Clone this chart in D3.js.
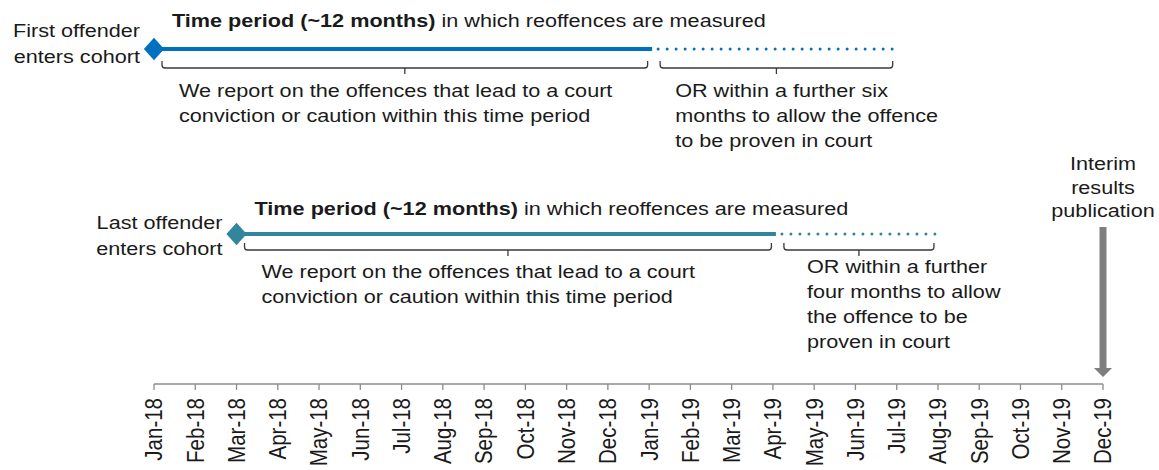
<!DOCTYPE html>
<html>
<head>
<meta charset="utf-8">
<script src="https://cdn.jsdelivr.net/npm/d3@7"></script>
<style>
    body { margin: 0; background: #fff; }
    svg { display: block; font-family: "Liberation Sans", Arial, sans-serif; }
</style>
</head>
<body>
<div class="chart"></div>
<script>
const months = ['Jan-18', 'Feb-18', 'Mar-18', 'Apr-18', 'May-18', 'Jun-18', 'Jul-18', 'Aug-18',
    'Sep-18', 'Oct-18', 'Nov-18', 'Dec-18', 'Jan-19', 'Feb-19', 'Mar-19', 'Apr-19',
    'May-19', 'Jun-19', 'Jul-19', 'Aug-19', 'Sep-19', 'Oct-19', 'Nov-19', 'Dec-19']

const rowLabels = [['First offender', 'enters cohort'], ['Last offender', 'enters cohort']]
const cohortStart = ['Jan-18', 'Mar-18']
const measuredEnd = ['Jan-19', 'Apr-19']
const provenEnd = ['Jul-19', 'Aug-19']
const rowColors = ['#0070c0', '#31859c']

const titleBold = 'Time period (~12 months)'
const titleRest = ' in which reoffences are measured'
const reportNote = ['We report on the offences that lead to a court', 'conviction or caution within this time period']
const provenNotes = [
    ['OR within a further six', 'months to allow the offence', 'to be proven in court'],
    ['OR within a further', 'four months to allow', 'the offence to be', 'proven in court']
]

const publicationMonth = 'Dec-19'
const publicationLabel = ['Interim', 'results', 'publication']

// layout of the two rows (px)
const rowY = [49, 234],
    titleY = [27, 215],
    labelY = [37, 229],
    noteY = [97, 278],
    provenDx = [26, 34],
    provenY = [97, 273],
    bracketTop = [61, 243],
    bracketBottom = [68, 250]

const width = 1159, height = 470
const axisY = 384
const fontSize = 18.5, stretch = 1.17, lineGap = 25

const x = d3.scalePoint().domain(months).range([154, 1103])

const svg = d3.select('.chart').append('svg')
    .attr('width', width)
    .attr('height', height)

function addText(g, txt, px, py, anchor = 'start', bold = false) {
    return g.append('text')
        .attr('transform', `translate(${px},${py}) scale(${stretch},1)`)
        .attr('text-anchor', anchor)
        .attr('font-size', fontSize)
        .attr('font-weight', bold ? 'bold' : 'normal')
        .attr('fill', '#1a1a1a')
        .text(txt)
}

function bracket(g, x0, x1, top, bottom) {
    const mid = (x0 + x1) / 2
    g.append('path')
        .attr('d', `M${x0},${top} V${bottom - 3} Q${x0},${bottom} ${x0 + 3},${bottom} H${x1 - 3} Q${x1},${bottom} ${x1},${bottom - 3} V${top} M${mid},${bottom} V${bottom + 6}`)
        .attr('fill', 'none')
        .attr('stroke', '#3a3a3a')
        .attr('stroke-width', 1.3)
}

rowLabels.forEach((lab, i) => {
    const g = svg.append('g').attr('class', 'row')
    const xs = x(cohortStart[i]), xe = x(measuredEnd[i]) + 3, xp = x(provenEnd[i]) - 2
    const y = rowY[i]

    g.append('line')
        .attr('x1', xs).attr('x2', xe)
        .attr('y1', y).attr('y2', y)
        .attr('stroke', rowColors[i])
        .attr('stroke-width', 4)

    g.append('line')
        .attr('x1', xe + 6).attr('x2', xp)
        .attr('y1', y).attr('y2', y)
        .attr('stroke', rowColors[i])
        .attr('stroke-width', 3)
        .attr('stroke-linecap', 'round')
        .attr('stroke-dasharray', '0,9')

    g.append('path')
        .attr('d', d3.symbol(d3.symbolDiamond2, 290)())
        .attr('transform', `translate(${xs},${y}) scale(0.95,1.05)`)
        .attr('fill', rowColors[i])

    lab.forEach((t, j) => addText(g, t, xs - 14, labelY[i] + j * 26, 'end'))

    const title = addText(g, titleBold, xs + 18, titleY[i], 'start', true)
    title.append('tspan').attr('font-weight', 'normal').text(titleRest)

    bracket(g, xs + 8, x(measuredEnd[i]) - 1.5, bracketTop[i], bracketBottom[i])
    bracket(g, xe + 8, x(provenEnd[i]) - 4, bracketTop[i], bracketBottom[i])

    reportNote.forEach((t, j) => addText(g, t, xs + 25, noteY[i] + j * lineGap))
    provenNotes[i].forEach((t, j) => addText(g, t, x(measuredEnd[i]) + provenDx[i], provenY[i] + j * lineGap))
})

// publication marker
const px = x(publicationMonth)
const pub = svg.append('g').attr('class', 'publication')
publicationLabel.forEach((t, j) => addText(pub, t, px, 170 + j * 23.5, 'middle'))
pub.append('path')
    .attr('d', `M${px - 3.5},227 V368 H${px - 9} L${px},377 L${px + 9},368 H${px + 3.5} V227 Z`)
    .attr('fill', '#7f7f7f')

// month axis
const axis = svg.append('g').attr('class', 'axis')
axis.append('line')
    .attr('x1', x(months[0])).attr('x2', x(months[months.length - 1]))
    .attr('y1', axisY).attr('y2', axisY)
    .attr('stroke', '#8c8c8c')
    .attr('stroke-width', 1.5)

axis.selectAll('.tick')
    .data(months)
    .join('line')
    .attr('class', 'tick')
    .attr('x1', d => x(d)).attr('x2', d => x(d))
    .attr('y1', axisY).attr('y2', axisY + 6)
    .attr('stroke', '#8c8c8c')
    .attr('stroke-width', 1.3)

axis.selectAll('.tickLabel')
    .data(months)
    .join('text')
    .attr('class', 'tickLabel')
    .attr('transform', d => `translate(${x(d)},398) scale(${stretch},1) rotate(-90)`)
    .attr('text-anchor', 'end')
    .attr('dy', '0.35em')
    .attr('font-size', 20.5)
    .attr('fill', '#1a1a1a')
    .text(d => d)
</script>
</body>
</html>
